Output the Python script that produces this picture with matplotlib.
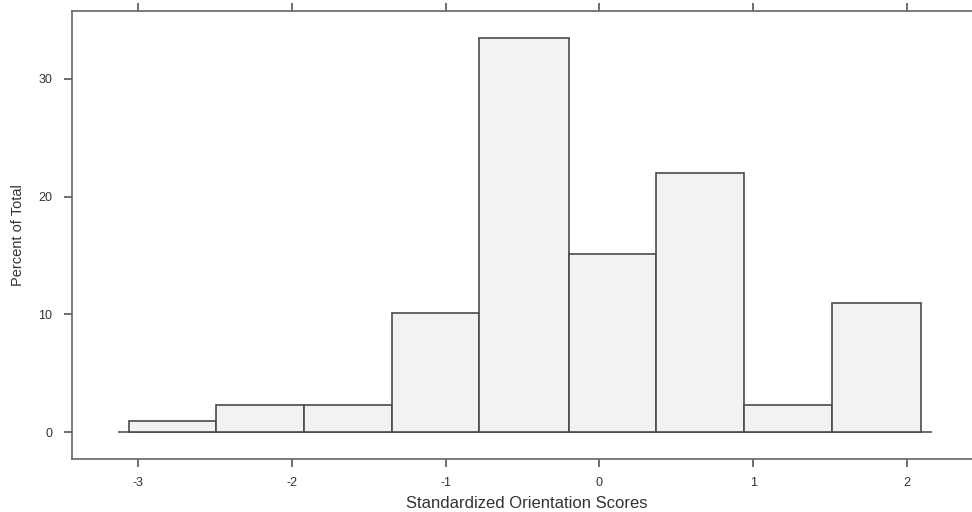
import matplotlib
matplotlib.use("Agg")
import matplotlib.pyplot as plt
import numpy as np

plt.rcParams['font.family'] = ['Liberation Sans', 'DejaVu Sans']

bin_edges = [-3.06, -2.49, -1.92, -1.35, -0.78, -0.20, 0.37, 0.94, 1.51, 2.09]
percent = [0.9, 2.3, 2.3, 10.1, 33.5, 15.1, 22.0, 2.3, 11.0]
x_ticks = [-3, -2, -1, 0, 1, 2]
y_ticks = [0, 10, 20, 30]

fig = plt.figure(figsize=(9.72, 5.12), dpi=100)
ax = fig.add_axes([72/972, 53/512, 1 - 72/972 + 0.01, (459 - 11)/512])

edges = np.array(bin_edges)
widths = np.diff(edges)
ax.bar(edges[:-1], percent, width=widths, align='edge', color='#f2f2f2',
       edgecolor='#4a4a4a', linewidth=1.2, zorder=2)
ax.hlines(0, -3.13, 2.16, color='#555555', linewidth=1.2, zorder=1)

ax.set_xlim(-3.429, 2.423 + 0.01 * 972 / 153.8)
ax.set_ylim(-2.29, 35.77)

ax.set_xticks(x_ticks)
ax.set_xticklabels(['-3', '-2', '-1', '0', '1', '2'])
ax.set_yticks(y_ticks)

for s in ['left', 'bottom', 'top']:
    ax.spines[s].set_color('#666666')
    ax.spines[s].set_linewidth(1.2)
ax.spines['right'].set_visible(False)

ax.tick_params(axis='x', which='both', direction='out', length=6, width=1.2,
               color='#555555', labelsize=9, labelcolor='#333333',
               top=True, labeltop=False, pad=7)
ax.tick_params(axis='y', which='both', direction='out', length=6, width=1.2,
               color='#555555', labelsize=9, labelcolor='#333333',
               right=False, pad=8)

ax.set_xlabel('Standardized Orientation Scores', fontsize=12, color='#333333', labelpad=5)
ax.set_ylabel('Percent of Total', fontsize=10.5, color='#333333', labelpad=10)

fig.savefig('out.png', dpi=100)
